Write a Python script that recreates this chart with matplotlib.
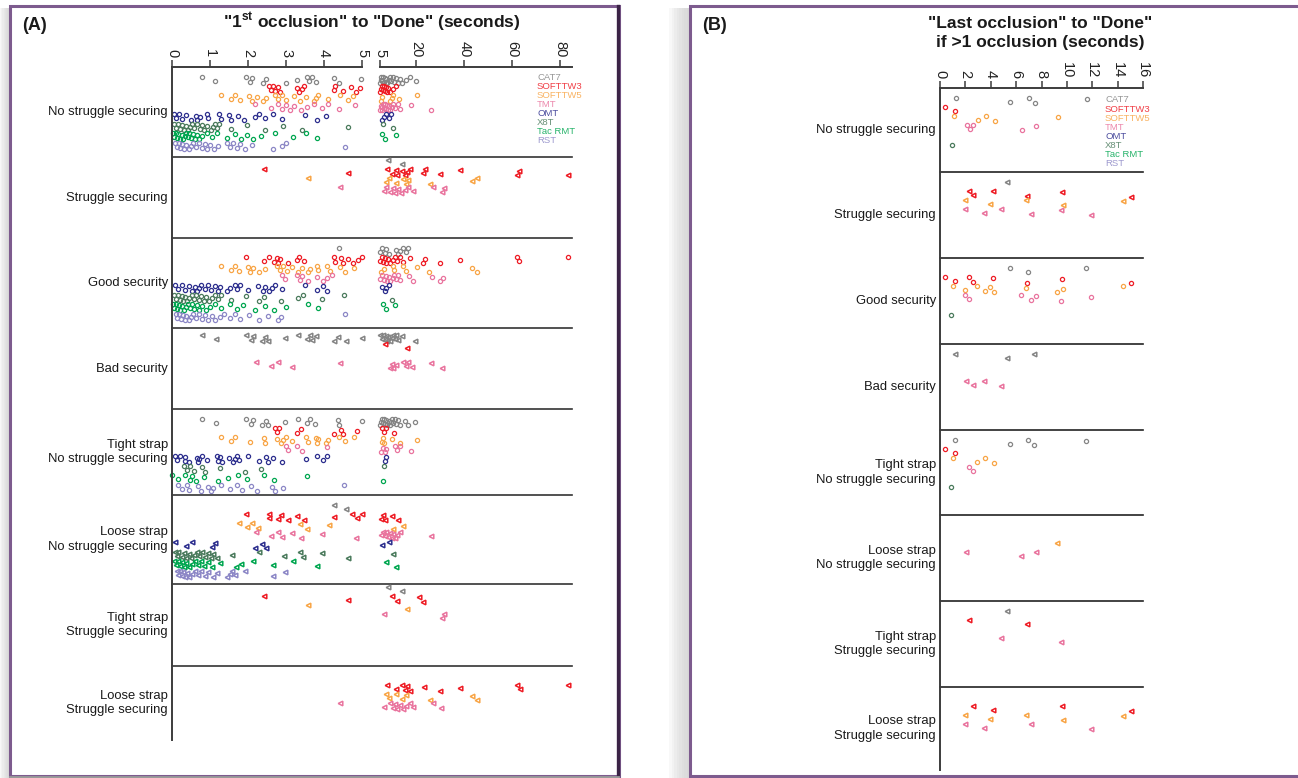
import numpy as np
import matplotlib
matplotlib.use("Agg")
import matplotlib.pyplot as plt
import matplotlib.transforms as mtransforms
from matplotlib.patches import Rectangle
from matplotlib.lines import Line2D

plt.rcParams["font.family"] = ["Liberation Sans", "DejaVu Sans"]
plt.rcParams["mathtext.fontset"] = "custom"
plt.rcParams["mathtext.rm"] = "Liberation Sans"
plt.rcParams["mathtext.bf"] = "Liberation Sans:bold"

# ---- data ---------------------------------------------------------------
series = ["CAT7", "SOFTTW3", "SOFTTW5", "TMT", "OMT", "X8T", "Tac RMT", "RST"]
colors = ["#858585", "#ee1c25", "#f8a546", "#e9749e", "#2d2f8e", "#4b7b5d", "#00a650", "#8c87c6"]

row_labels = ["No struggle securing", "Struggle securing", "Good security", "Bad security",
              "Tight strap\nNo struggle securing", "Loose strap\nNo struggle securing",
              "Tight strap\nStruggle securing", "Loose strap\nStruggle securing"]
row_markers = ["o", "<", "o", "<", "o", "<", "<", "<"]

a_ticks_low = [0, 1, 2, 3, 4, 5]
a_ticks_high = [5, 20, 40, 60, 80]
b_ticks = [0, 2, 4, 6, 8, 10, 12, 14, 16]

# (A) "1st occlusion" to "Done" (seconds)
a_no_struggle = {
    "CAT7": [0.8, 1.14, 1.95, 2.05, 2.1, 2.4, 2.48, 2.99, 3.3, 3.55, 3.6, 3.68, 3.78, 4.25, 4.4, 4.98,
             5.1, 5.3, 5.6, 5.9, 6.2, 6.5, 6.9, 7.3, 7.7, 8.1, 8.6, 9.1, 9.6, 10.2, 10.8, 11.5, 12.3,
             13.2, 14.3, 15.8, 17.5, 19.8],
    "SOFTTW3": [2.55, 2.6, 2.66, 2.72, 2.78, 2.85, 3.28, 3.35, 3.42, 3.48, 4.25, 4.3, 4.5, 4.72, 4.85,
                4.95, 5.2, 5.5, 5.8, 6.1, 6.5, 6.9, 7.3, 7.8, 8.5, 9.3, 10.4, 11.6],
    "SOFTTW5": [1.28, 1.54, 1.66, 1.79, 2.02, 2.1, 2.23, 2.39, 2.47, 2.7, 2.8, 2.9, 3.01, 3.22, 3.37,
                3.53, 3.73, 3.79, 3.84, 4.1, 4.41, 4.62, 4.77, 5.4, 5.9, 9.2, 9.8, 10.5, 13.0, 20.3],
    "TMT": [2.18, 2.6, 2.8, 2.9, 3.0, 3.1, 3.2, 3.4, 3.55, 3.73, 3.94, 4.1, 4.4, 4.82, 5.1, 5.4, 5.7,
            6.0, 6.3, 6.6, 7.0, 7.4, 7.8, 8.3, 8.8, 9.3, 9.9, 10.6, 11.4, 12.3, 13.5, 17.8, 26.0],
    "OMT": [0.05, 0.1, 0.19, 0.26, 0.36, 0.5, 0.62, 0.67, 0.73, 0.91, 0.96, 1.24, 1.3, 1.5, 1.56, 1.74,
            1.89, 2.18, 2.28, 2.44, 2.65, 2.9, 3.51, 3.82, 4.05, 6.0, 6.7, 7.6, 8.6, 9.6],
    "X8T": [0.05, 0.1, 0.16, 0.21, 0.26, 0.31, 0.36, 0.41, 0.47, 0.52, 0.59, 0.65, 0.73, 0.78, 0.85,
            0.93, 1.02, 1.09, 1.14, 1.19, 1.24, 1.56, 1.97, 2.44, 2.93, 3.42, 4.62, 6.3, 10.4],
    "Tac RMT": [0.03, 0.06, 0.1, 0.13, 0.17, 0.21, 0.25, 0.29, 0.33, 0.37, 0.41, 0.46, 0.5, 0.55, 0.6,
                0.66, 0.72, 0.8, 0.93, 1.04, 1.19, 1.45, 1.66, 1.82, 1.97, 2.13, 2.33, 2.7, 3.18, 3.53,
                3.81, 6.0, 7.2, 11.5],
    "RST": [0.08, 0.12, 0.18, 0.22, 0.27, 0.32, 0.38, 0.44, 0.5, 0.56, 0.62, 0.7, 0.78, 0.86, 0.93, 1.0,
            1.1, 1.22, 1.45, 1.52, 1.6, 1.7, 1.8, 1.92, 2.1, 2.65, 2.9, 3.0, 4.54],
}
a_struggle = {
    "CAT7": [8.5, 14.3],
    "SOFTTW3": [2.41, 4.64, 8.1, 9.8, 11.5, 12.2, 14.3, 15.2, 16.3, 17.4, 22.9, 23.6, 30.1, 38.2,
                62.1, 62.8, 83.2],
    "SOFTTW5": [3.59, 7.4, 8.8, 11.8, 14.6, 15.7, 16.6, 25.7, 43.3, 45.5],
    "TMT": [4.42, 6.6, 7.7, 9.1, 10.2, 11.3, 12.5, 13.9, 15.2, 16.6, 18.8, 27.1, 30.6, 31.5],
}
a_good = {
    "CAT7": [4.39, 5.2, 6.0, 7.0, 7.7, 8.8, 11.8, 12.5, 13.4, 14.6, 15.7, 16.6],
    "SOFTTW3": [1.95, 2.41, 2.55, 2.69, 2.76, 2.8, 2.85, 3.06, 3.28, 3.34, 3.48, 4.26, 4.29, 4.46, 4.51,
                4.64, 4.77, 4.9, 4.99, 5.2, 5.75, 6.3, 7.0, 7.7, 8.5, 9.3, 10.5, 11.3, 12.1, 13.2,
                14.6, 17.4, 22.9, 23.6, 30.1, 38.2, 62.1, 62.8, 83.2],
    "SOFTTW5": [1.29, 1.56, 1.65, 1.77, 1.99, 2.06, 2.12, 2.28, 2.45, 2.76, 2.84, 2.93, 3.02, 3.15,
                3.32, 3.41, 3.57, 3.63, 3.81, 3.85, 4.07, 4.16, 4.42, 4.55, 4.8, 5.6, 6.6, 10.2, 10.7,
                14.6, 16.0, 20.2, 25.4, 43.3, 45.5],
    "TMT": [2.89, 2.97, 3.28, 3.37, 3.41, 3.59, 3.81, 3.98, 4.09, 4.2, 5.2, 6.0, 6.6, 7.4, 8.1, 8.8,
            9.3, 10.2, 10.8, 11.5, 12.5, 13.4, 17.0, 18.8, 26.8, 30.1, 31.2],
    "OMT": [0.09, 0.15, 0.26, 0.35, 0.44, 0.53, 0.61, 0.66, 0.7, 0.75, 0.88, 0.96, 1.02, 1.14, 1.2,
            1.25, 1.44, 1.52, 1.66, 1.72, 1.78, 2.01, 2.26, 2.4, 2.45, 2.55, 2.62, 2.7, 2.89, 3.5,
            3.81, 3.98, 4.09, 6.0, 7.0, 7.7, 8.8],
    "X8T": [0.05, 0.1, 0.15, 0.2, 0.25, 0.3, 0.35, 0.4, 0.45, 0.52, 0.58, 0.64, 0.7, 0.76, 0.84, 0.9,
            0.98, 1.06, 1.14, 1.22, 1.3, 1.56, 1.95, 2.28, 2.42, 2.88, 3.32, 3.45, 3.95, 4.52, 9.8],
    "Tac RMT": [0.02, 0.06, 0.1, 0.14, 0.18, 0.22, 0.27, 0.32, 0.37, 0.42, 0.47, 0.52, 0.58, 0.65,
                0.72, 0.8, 0.9, 1.0, 1.12, 1.28, 1.52, 1.72, 1.88, 2.18, 2.45, 2.68, 3.0, 3.58, 3.85,
                6.3, 7.7, 11.4],
    "RST": [0.1, 0.14, 0.18, 0.23, 0.28, 0.33, 0.38, 0.44, 0.5, 0.56, 0.63, 0.7, 0.78, 0.86, 0.95,
            1.04, 1.14, 1.25, 1.38, 1.52, 1.66, 1.78, 2.02, 2.28, 2.52, 2.78, 2.88, 4.55],
}
a_bad = {
    "CAT7": [0.8, 1.15, 1.94, 2.08, 2.12, 2.38, 2.45, 2.52, 2.97, 3.31, 3.55, 3.63, 3.69, 3.78, 4.27,
             4.37, 4.57, 4.99, 5.2, 5.75, 6.3, 6.9, 7.4, 8.0, 8.5, 9.1, 9.8, 10.5, 11.2, 11.8, 12.5,
             14.3, 19.5],
    "SOFTTW3": [7.1, 16.3],
    "TMT": [2.21, 2.61, 2.8, 3.15, 4.42, 9.1, 9.8, 10.5, 11.5, 14.6, 15.7, 16.6, 18.3, 26.4, 30.6],
}
a_tight_no_struggle = {
    "CAT7": [0.8, 1.15, 1.94, 2.08, 2.12, 2.36, 2.47, 2.52, 2.97, 3.31, 3.55, 3.63, 3.76, 4.37, 4.39,
             4.99, 5.05, 5.4, 5.9, 6.3, 6.7, 7.1, 7.7, 8.1, 8.7, 9.1, 9.7, 10.1, 10.5, 11.2, 11.8,
             12.5, 13.2, 15.2, 16.6, 19.5],
    "SOFTTW3": [2.71, 2.76, 2.82, 3.28, 3.39, 4.26, 4.46, 4.51, 4.87, 6.0, 6.7, 7.4, 10.7],
    "SOFTTW5": [1.29, 1.55, 1.65, 2.05, 2.41, 2.45, 2.76, 2.87, 2.93, 2.99, 3.17, 3.53, 3.59, 3.78,
                3.81, 3.85, 4.05, 4.11, 4.39, 4.55, 4.79, 5.9, 6.3, 6.7, 10.1, 13.4, 20.2],
    "TMT": [2.99, 3.04, 3.28, 3.41, 4.07, 5.6, 6.3, 6.9, 7.4, 11.3, 12.1, 13.2, 18.0],
    "OMT": [0.09, 0.13, 0.22, 0.33, 0.35, 0.44, 0.66, 0.68, 0.7, 0.79, 0.92, 1.18, 1.22, 1.27, 1.31,
            1.49, 1.6, 1.66, 1.71, 1.77, 1.99, 2.28, 2.48, 2.52, 2.65, 2.9, 3.52, 3.81, 3.98, 4.09,
            7.0, 7.7],
    "X8T": [0.31, 0.39, 0.48, 0.57, 0.79, 0.87, 1.27, 1.92, 2.34, 6.6],
    "Tac RMT": [0.01, 0.16, 0.33, 0.48, 0.52, 0.64, 0.85, 1.21, 1.47, 1.73, 1.97, 2.41, 2.69, 3.56, 6.3],
    "RST": [0.16, 0.25, 0.39, 0.44, 0.68, 0.77, 0.96, 1.03, 1.09, 1.29, 1.53, 1.71, 1.84, 2.08, 2.23,
            2.64, 2.71, 2.91, 4.53],
}
a_loose_no_struggle = {
    "CAT7": [4.27, 4.57],
    "SOFTTW3": [1.94, 2.54, 2.55, 2.78, 2.87, 3.06, 3.3, 3.48, 4.27, 4.74, 4.86, 4.99, 5.6, 6.3, 7.0,
                9.8, 12.4],
    "SOFTTW5": [1.77, 1.98, 2.1, 2.26, 3.37, 3.54, 4.13, 10.5, 14.6],
    "TMT": [2.21, 2.61, 2.8, 2.89, 3.15, 3.39, 3.96, 4.84, 5.6, 6.3, 7.0, 7.7, 8.4, 9.1, 9.8, 10.5,
            11.2, 12.1, 13.5, 26.4],
    "OMT": [0.07, 0.37, 0.52, 1.05, 1.12, 2.19, 2.36, 2.48, 6.0, 8.8],
    "X8T": [0.07, 0.13, 0.17, 0.25, 0.31, 0.37, 0.44, 0.51, 0.57, 0.66, 0.72, 0.79, 0.87, 0.96, 1.03,
            1.09, 1.18, 1.58, 2.28, 2.96, 3.37, 3.46, 3.94, 4.62, 10.2],
    "Tac RMT": [0.04, 0.1, 0.15, 0.2, 0.26, 0.32, 0.38, 0.45, 0.52, 0.6, 0.68, 0.76, 0.85, 0.95, 1.05,
                1.27, 1.68, 1.82, 2.14, 2.67, 3.19, 3.81, 7.7, 11.5],
    "RST": [0.13, 0.17, 0.21, 0.25, 0.3, 0.35, 0.4, 0.46, 0.52, 0.6, 0.68, 0.77, 0.86, 0.96, 1.08,
            1.18, 1.44, 1.53, 1.59, 1.66, 1.92, 2.67, 2.97],
}
a_tight_struggle = {
    "CAT7": [8.5, 14.3],
    "SOFTTW3": [2.41, 4.64, 10.1, 12.1, 21.3, 22.9],
    "SOFTTW5": [3.59, 16.3],
    "TMT": [6.6, 30.6, 31.5],
}
a_loose_struggle = {
    "SOFTTW3": [8.1, 11.5, 14.3, 15.2, 16.3, 17.4, 23.3, 30.1, 38.2, 62.1, 63.1, 83.2],
    "SOFTTW5": [7.4, 8.8, 11.8, 14.3, 15.7, 25.7, 43.3, 45.5],
    "TMT": [4.42, 6.6, 9.1, 10.2, 11.2, 12.1, 13.2, 14.6, 16.0, 17.4, 18.8, 27.1, 30.3],
}

# (B) "Last occlusion" to "Done" if >1 occlusion (seconds)
b_no_struggle = {
    "CAT7": [1.25, 5.55, 7.0, 7.45, 11.6],
    "SOFTTW3": [0.4, 1.2],
    "SOFTTW5": [1.1, 3.0, 3.6, 4.3, 9.3],
    "TMT": [2.1, 2.4, 2.6, 6.5, 7.6],
    "X8T": [0.97],
}
b_struggle = {
    "CAT7": [5.31],
    "SOFTTW3": [2.26, 2.63, 4.2, 6.83, 9.61, 15.03],
    "SOFTTW5": [1.97, 3.94, 6.75, 9.69, 14.4],
    "TMT": [1.97, 3.49, 4.81, 7.15, 9.51, 11.9],
}
b_good = {
    "CAT7": [5.52, 6.93, 11.51],
    "SOFTTW3": [0.37, 1.18, 2.26, 2.63, 4.2, 6.83, 9.61, 15.03],
    "SOFTTW5": [1.05, 1.97, 2.94, 3.55, 3.94, 4.25, 6.75, 9.22, 9.69, 14.4],
    "TMT": [1.97, 2.26, 6.41, 7.15, 7.57, 9.51, 11.9],
    "X8T": [0.89],
}
b_bad = {
    "CAT7": [1.21, 5.31, 7.41],
    "TMT": [2.05, 2.6, 3.49, 4.81],
}
b_tight_no_struggle = {
    "CAT7": [1.18, 5.52, 6.93, 7.38, 11.51],
    "SOFTTW3": [0.37, 1.18],
    "SOFTTW5": [1.05, 2.94, 3.55, 4.25],
    "TMT": [2.26, 2.58],
    "X8T": [0.89],
}
b_loose_no_struggle = {
    "SOFTTW5": [9.22],
    "TMT": [2.05, 6.41, 7.57],
}
b_tight_struggle = {
    "CAT7": [5.31],
    "SOFTTW3": [2.26, 6.83],
    "TMT": [4.81, 9.54],
}
b_loose_struggle = {
    "SOFTTW3": [2.63, 4.2, 9.61, 15.03],
    "SOFTTW5": [1.97, 3.94, 6.75, 9.69, 14.4],
    "TMT": [1.97, 3.49, 7.15, 11.9],
}

a_rows = [a_no_struggle, a_struggle, a_good, a_bad, a_tight_no_struggle,
          a_loose_no_struggle, a_tight_struggle, a_loose_struggle]
b_rows = [b_no_struggle, b_struggle, b_good, b_bad, b_tight_no_struggle,
          b_loose_no_struggle, b_tight_struggle, b_loose_struggle]

# ---- layout (figure pixels, y from top) ---------------------------------
W, H = 1298, 778
a_edges = [67, 157, 238, 328, 409, 495, 584, 666, 740]
b_edges = [88, 172, 258, 344, 430, 515, 601, 687, 770]
a_row_shift = [0, -7, 0, -3, 0, 0, -7, 0]
series_offset = [13, 22, 31, 40, 50, 60, 69, 79]

fig = plt.figure(figsize=(W / 100, H / 100), dpi=100)
fig.patch.set_facecolor("white")


def px_rect(x0, y0, x1, y1, **kw):
    return Rectangle((x0 / W, 1 - y1 / H), (x1 - x0) / W, (y1 - y0) / H,
                     transform=fig.transFigure, zorder=-5, **kw)


# panel frames with a soft shadow on the left
for k in range(8):
    fig.patches.append(px_rect(9 - (k + 1) * 1.1, 8, 9, 778, facecolor="#c8c8c8",
                               edgecolor="none", alpha=0.12))
    fig.patches.append(px_rect(689 - (k + 1) * 2.5, 8, 689, 778, facecolor="#c8c8c8",
                               edgecolor="none", alpha=0.12))
fig.patches.append(px_rect(9.5, 5.5, 618.5, 776, facecolor="white", edgecolor="#7d5b8e", lw=2.2))
fig.patches.append(px_rect(689.5, 5.5, 1302, 776, facecolor="white", edgecolor="#7d5b8e", lw=2.2))
fig.add_artist(Line2D([618 / W, 618 / W], [1 - 6 / H, 1 - 776 / H], color="#3b2346", lw=2.4,
                      transform=fig.transFigure, zorder=-4))
fig.add_artist(Line2D([10 / W, 618 / W], [1 - 776.5 / H, 1 - 776.5 / H], color="#9a9a9a", lw=2,
                      transform=fig.transFigure, zorder=-4))


def px_axes(x0, x1, y0, y1):
    ax = fig.add_axes([x0 / W, 1 - y1 / H, (x1 - x0) / W, (y1 - y0) / H])
    ax.set_facecolor("none")
    ax.set_ylim(y1, y0)
    for s in ["right", "bottom", "left"]:
        ax.spines[s].set_visible(False)
    ax.spines["top"].set_color("#3c3c3c")
    ax.spines["top"].set_linewidth(1.4)
    ax.xaxis.tick_top()
    ax.tick_params(axis="x", direction="out", length=5, width=1.1, color="#3c3c3c",
                   labelsize=10.5, labelrotation=-90, pad=2, labelcolor="#222222")
    ax.set_yticks([])
    return ax


axL = px_axes(172, 362, a_edges[0], a_edges[-1])
axL.set_xlim(0, 5)
axL.set_xticks(a_ticks_low)
axL.spines["left"].set_visible(True)
axL.spines["left"].set_color("#3c3c3c")
axL.spines["left"].set_linewidth(1.4)

axR = px_axes(380, 572, a_edges[0], a_edges[-1])
axR.set_xlim(5, 84.8)
axR.set_xticks(a_ticks_high)

axB = px_axes(940, 1143, b_edges[0], b_edges[-1])
axB.set_xlim(0, 16)
axB.set_xticks(b_ticks)
axB.spines["left"].set_visible(True)
axB.spines["left"].set_color("#3c3c3c")
axB.spines["left"].set_linewidth(1.4)


def jitter(n):
    return ((np.arange(n) * 5) % 9 - 4) * 0.85


def draw_points(ax_list, split, rows, edges, shifts):
    for r, row in enumerate(rows):
        top = edges[r]
        mk = row_markers[r]
        for i, name in enumerate(series):
            if name not in row:
                continue
            vals = np.array(row[name], dtype=float)
            y = top + series_offset[i] + shifts[r] + jitter(len(vals))
            style = dict(linestyle="none", marker=mk, markerfacecolor="none",
                         markeredgecolor=colors[i], clip_on=False)
            if mk == "o":
                style.update(markersize=3.0, markeredgewidth=0.9)
            else:
                style.update(markersize=3.3, markeredgewidth=1.1)
            if split is None:
                ax_list[0].plot(vals, y, **style)
            else:
                low = vals <= split
                ax_list[0].plot(vals[low], y[low], **style)
                ax_list[1].plot(vals[~low], y[~low], **style)


draw_points([axL, axR], 5, a_rows, a_edges, a_row_shift)
draw_points([axB], None, b_rows, b_edges, [0] * 8)

# row separators and labels
transL = mtransforms.blended_transform_factory(axL.transAxes, axL.transData)
transB = mtransforms.blended_transform_factory(axB.transAxes, axB.transData)
a_span = (572 - 172) / (362 - 172)
for y in a_edges[1:-1]:
    axL.plot([0, a_span], [y, y], color="#333333", lw=1.2, transform=transL, clip_on=False)
for y in b_edges[1:-1]:
    axB.plot([0, 1], [y, y], color="#222222", lw=1.2, transform=transB, clip_on=False)

for r, lab in enumerate(row_labels):
    ca = (a_edges[r] + a_edges[r + 1]) / 2
    cb = (b_edges[r] + b_edges[r + 1]) / 2
    axL.text(-0.022, ca, lab, transform=transL, ha="right", va="center", fontsize=9.4,
             linespacing=1.25, color="#1a1a1a")
    axB.text(-0.02, cb, lab, transform=transB, ha="right", va="center", fontsize=9.4,
             linespacing=1.25, color="#1a1a1a")

# legends (coloured names)
for i, name in enumerate(series):
    fig.text(537 / W, 1 - (78 + i * 8.95) / H, name, color=colors[i], fontsize=6.8,
             ha="left", va="center", alpha=0.85)
    fig.text(1105 / W, 1 - (100 + i * 9.1) / H, name, color=colors[i], fontsize=6.8,
             ha="left", va="center", alpha=0.85)

# titles
fig.text(22 / W, 1 - 25 / H, "(A)", fontsize=13, fontweight="bold", ha="left", va="center",
         color="#1a1a1a")
fig.text(702 / W, 1 - 25 / H, "(B)", fontsize=13, fontweight="bold", ha="left", va="center",
         color="#1a1a1a")
fig.text(372 / W, 1 - 22 / H, r'"1$^{\mathbf{st}}$ occlusion" to "Done" (seconds)',
         fontsize=12.5, fontweight="bold", ha="center", va="center", color="#1a1a1a")
fig.text(1040 / W, 1 - 33 / H, '"Last occlusion" to "Done"\nif >1 occlusion (seconds)',
         fontsize=12.5, fontweight="bold", ha="center", va="center", linespacing=1.3,
         color="#1a1a1a")

fig.savefig("out.png", dpi=100)
